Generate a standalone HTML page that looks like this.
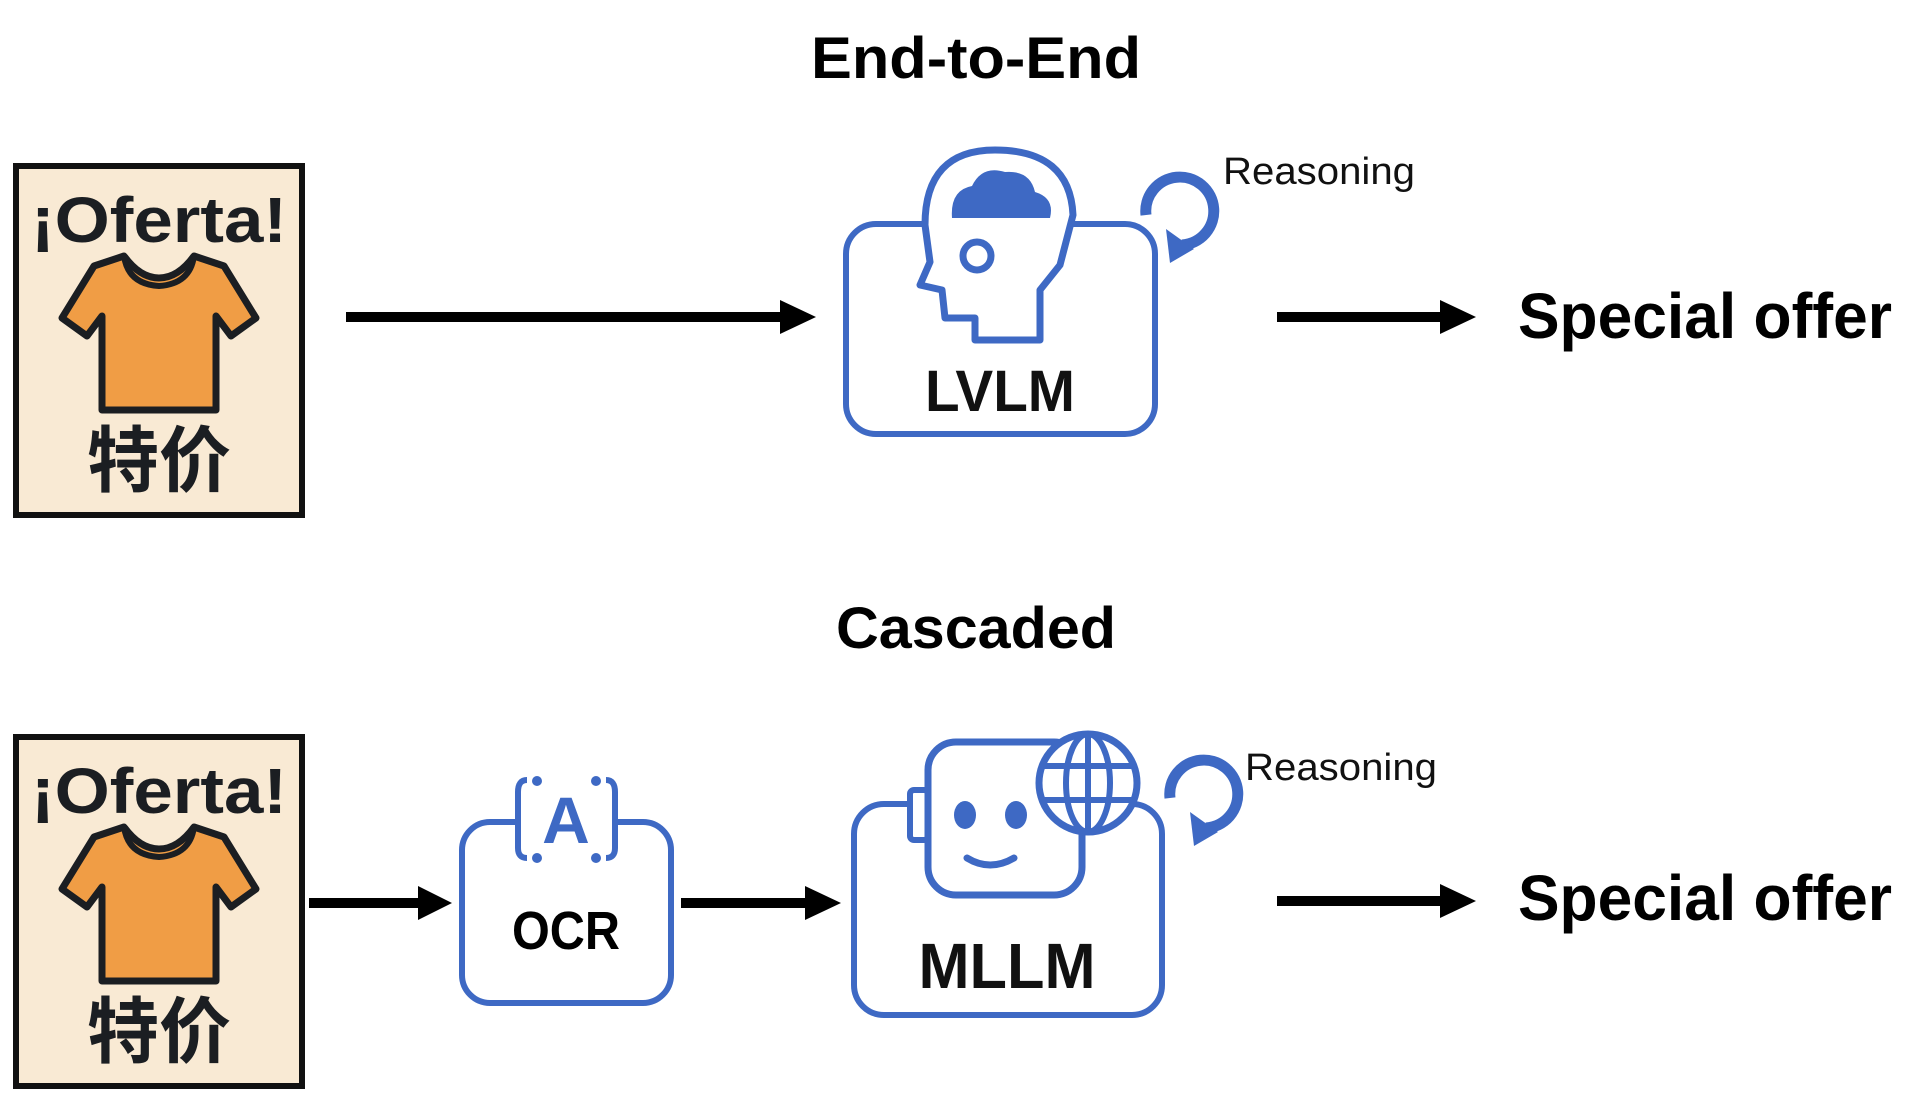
<!DOCTYPE html>
<html><head><meta charset="utf-8"><style>
html,body{margin:0;padding:0;background:#fff;}
svg{display:block}
text{font-family:"Liberation Sans","Noto Sans CJK SC",sans-serif;}
</style></head><body>
<svg width="1908" height="1118" viewBox="0 0 1908 1118" xmlns="http://www.w3.org/2000/svg">
<defs>
<g id="sign">
  <rect x="0" y="0" width="286" height="349" fill="#f9ead4" stroke="#111" stroke-width="6"/>
  <text x="143" y="76" font-size="64" font-weight="bold" text-anchor="middle" fill="#1b1e22" textLength="256" lengthAdjust="spacingAndGlyphs">¡Oferta!</text>
  <path d="M78,100 L108,90 Q124,112 143,112 Q162,112 178,90 L208,100 L240,152 L215,170 L200,150 L200,244 L86,244 L86,150 L71,170 L46,152 Z" fill="#f09d45" stroke="#1b1e22" stroke-width="7" stroke-linejoin="round"/>
  <path d="M108,90 Q112,118 143,120 Q174,118 178,90" fill="none" stroke="#1b1e22" stroke-width="6"/>
  <text x="143" y="320" font-size="72" font-weight="bold" text-anchor="middle" fill="#1b1e22" font-family="'Noto Sans CJK SC',sans-serif">特价</text>
</g>
<g id="loop">
  <path d="M14,50 A34,34 0 1 1 50,80" fill="none" stroke="#3e69c4" stroke-width="11"/>
  <path d="M34,64 L62,84 L38,98 Z" fill="#3e69c4"/>
</g>
</defs>

<text x="976" y="78" font-size="58" font-weight="bold" text-anchor="middle" textLength="330" lengthAdjust="spacingAndGlyphs">End-to-End</text>
<text x="976" y="648" font-size="58" font-weight="bold" text-anchor="middle" textLength="280" lengthAdjust="spacingAndGlyphs">Cascaded</text>

<use href="#sign" x="16" y="166"/>
<use href="#sign" x="16" y="737"/>

<rect x="346" y="312" width="442" height="10" fill="#000"/>
<path d="M780,300 L816,317 L780,334 Z" fill="#000"/>
<rect x="1277" y="312" width="170" height="10" fill="#000"/>
<path d="M1440,300 L1476,317 L1440,334 Z" fill="#000"/>

<rect x="846" y="224" width="309" height="210" rx="30" fill="#fff" stroke="#3e69c4" stroke-width="6"/>
<path d="M975,340 L975,318 L945,318 L942,290 L920,285 L930,262 L925,225 Q925,150 995,150 Q1070,150 1073,215 L1060,265 L1040,290 L1040,340 Z" fill="#fff" stroke="#3e69c4" stroke-width="7" stroke-linejoin="round"/>
<path d="M952,218 Q950,190 972,186 Q982,165 1005,172 Q1030,170 1035,192 Q1055,198 1050,218 Z" fill="#3e69c4"/>
<circle cx="977" cy="256" r="14" fill="none" stroke="#3e69c4" stroke-width="7"/>
<text x="1000" y="411" font-size="58" font-weight="bold" text-anchor="middle" fill="#111" textLength="150" lengthAdjust="spacingAndGlyphs">LVLM</text>
<use href="#loop" x="1132" y="165"/>
<text x="1223" y="184" font-size="38" fill="#111" textLength="192" lengthAdjust="spacingAndGlyphs">Reasoning</text>
<text x="1518" y="338" font-size="64" font-weight="bold" fill="#000" textLength="374" lengthAdjust="spacingAndGlyphs">Special offer</text>

<rect x="309" y="898" width="115" height="10" fill="#000"/>
<path d="M418,886 L452,903 L418,920 Z" fill="#000"/>
<rect x="681" y="898" width="130" height="10" fill="#000"/>
<path d="M805,886 L841,903 L805,920 Z" fill="#000"/>
<rect x="1277" y="896" width="170" height="10" fill="#000"/>
<path d="M1440,884 L1476,901 L1440,918 Z" fill="#000"/>

<rect x="462" y="822" width="209" height="181" rx="28" fill="#fff" stroke="#3e69c4" stroke-width="6"/>
<rect x="516" y="795" width="100" height="50" fill="#fff"/>
<path d="M527,780 Q518,780 518,792 L518,848 Q518,858 527,858" fill="none" stroke="#3e69c4" stroke-width="6"/>
<path d="M606,780 Q615,780 615,792 L615,848 Q615,858 606,858" fill="none" stroke="#3e69c4" stroke-width="6"/>
<circle cx="537" cy="781" r="5" fill="#3e69c4"/><circle cx="537" cy="858" r="5" fill="#3e69c4"/>
<circle cx="596" cy="781" r="5" fill="#3e69c4"/><circle cx="596" cy="858" r="5" fill="#3e69c4"/>
<text x="566" y="843" font-size="66" font-weight="bold" text-anchor="middle" fill="#3e69c4">A</text>
<text x="566" y="949" font-size="54" font-weight="bold" text-anchor="middle" fill="#000" textLength="108" lengthAdjust="spacingAndGlyphs">OCR</text>

<rect x="854" y="804" width="308" height="211" rx="30" fill="#fff" stroke="#3e69c4" stroke-width="6"/>
<rect x="910" y="790" width="18" height="50" rx="4" fill="#fff" stroke="#3e69c4" stroke-width="6"/>
<rect x="928" y="742" width="154" height="153" rx="28" fill="#fff" stroke="#3e69c4" stroke-width="7"/>
<ellipse cx="965" cy="815" rx="11" ry="14" fill="#3e69c4"/>
<ellipse cx="1016" cy="815" rx="11" ry="14" fill="#3e69c4"/>
<path d="M967,858 Q990,872 1014,858" fill="none" stroke="#3e69c4" stroke-width="7" stroke-linecap="round"/>
<circle cx="1088" cy="783" r="49" fill="#fff" stroke="#3e69c4" stroke-width="7"/>
<ellipse cx="1088" cy="783" rx="22" ry="49" fill="none" stroke="#3e69c4" stroke-width="6"/>
<line x1="1088" y1="734" x2="1088" y2="832" stroke="#3e69c4" stroke-width="6"/>
<line x1="1042" y1="766" x2="1134" y2="766" stroke="#3e69c4" stroke-width="6"/>
<line x1="1042" y1="800" x2="1134" y2="800" stroke="#3e69c4" stroke-width="6"/>
<text x="1007" y="988" font-size="64" font-weight="bold" text-anchor="middle" fill="#111" textLength="177" lengthAdjust="spacingAndGlyphs">MLLM</text>
<use href="#loop" x="1156" y="748"/>
<text x="1245" y="780" font-size="38" fill="#111" textLength="192" lengthAdjust="spacingAndGlyphs">Reasoning</text>
<text x="1518" y="920" font-size="64" font-weight="bold" fill="#000" textLength="374" lengthAdjust="spacingAndGlyphs">Special offer</text>
</svg>
</body></html>
